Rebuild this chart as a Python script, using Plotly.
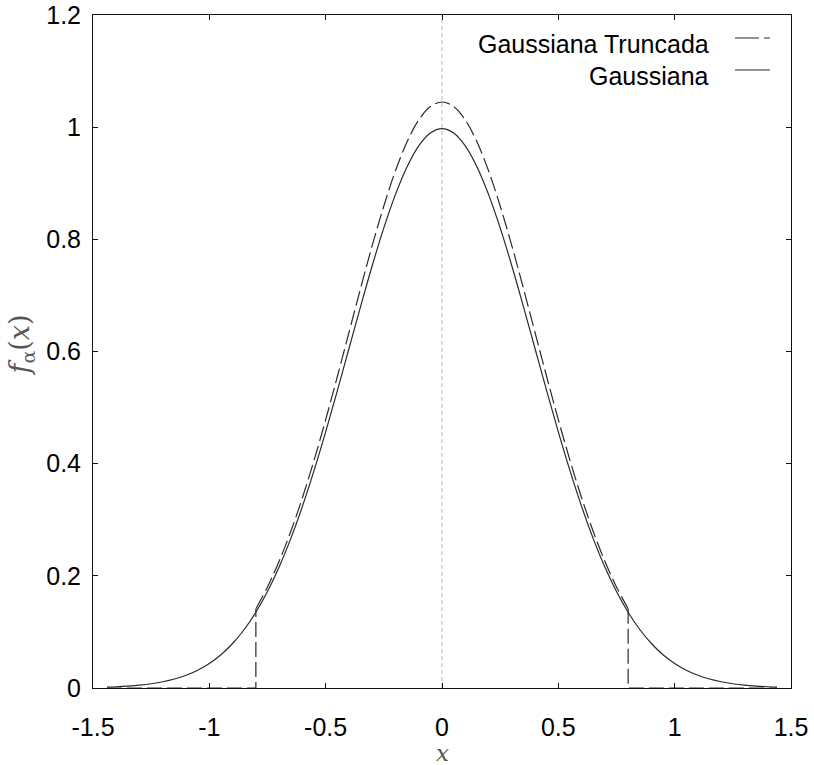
import plotly.graph_objects as go

# ---- data ----
gauss_x = [-1.44, -1.40, -1.35, -1.30, -1.25, -1.20, -1.15, -1.10, -1.05, -1.00,
           -0.95, -0.90, -0.85, -0.80, -0.75, -0.70, -0.65, -0.60, -0.55, -0.50,
           -0.45, -0.40, -0.35, -0.30, -0.25, -0.20, -0.15, -0.10, -0.05, 0.00,
           0.05, 0.10, 0.15, 0.20, 0.25, 0.30, 0.35, 0.40, 0.45, 0.50,
           0.55, 0.60, 0.65, 0.70, 0.75, 0.80, 0.85, 0.90, 0.95, 1.00,
           1.05, 1.10, 1.15, 1.20, 1.25, 1.30, 1.35, 1.40, 1.44]
gauss_y = [0.0015, 0.0022, 0.0034, 0.0051, 0.0076, 0.0111, 0.0160, 0.0227, 0.0318, 0.0438,
           0.0594, 0.0794, 0.1043, 0.1350, 0.1720, 0.2157, 0.2663, 0.3238, 0.3875, 0.4566,
           0.5297, 0.6049, 0.6801, 0.7529, 0.8204, 0.8802, 0.9296, 0.9667, 0.9896, 0.9974,
           0.9896, 0.9667, 0.9296, 0.8802, 0.8204, 0.7529, 0.6801, 0.6049, 0.5297, 0.4566,
           0.3875, 0.3238, 0.2663, 0.2157, 0.1720, 0.1350, 0.1043, 0.0794, 0.0594, 0.0438,
           0.0318, 0.0227, 0.0160, 0.0111, 0.0076, 0.0051, 0.0034, 0.0022, 0.0015]

trunc_x = [-0.80, -0.75, -0.70, -0.65, -0.60, -0.55, -0.50, -0.45, -0.40, -0.35, -0.30,
           -0.25, -0.20, -0.15, -0.10, -0.05, 0.00, 0.05, 0.10, 0.15, 0.20, 0.25,
           0.30, 0.35, 0.40, 0.45, 0.50, 0.55, 0.60, 0.65, 0.70, 0.75, 0.80]
trunc_y = [0.1414, 0.1802, 0.2260, 0.2790, 0.3392, 0.4060, 0.4784, 0.5550, 0.6337, 0.7125, 0.7888,
           0.8595, 0.9222, 0.9739, 1.0128, 1.0368, 1.0449, 1.0368, 1.0128, 0.9739, 0.9222, 0.8595,
           0.7888, 0.7125, 0.6337, 0.5550, 0.4784, 0.4060, 0.3392, 0.2790, 0.2260, 0.1802, 0.1414]

# truncated density: zero outside the cut, with vertical drops at the cut
trunc_left_x = [-1.44, -0.80, -0.80]
trunc_left_y = [0.0, 0.0, 0.1414]
trunc_right_x = [0.80, 0.80, 1.44]
trunc_right_y = [0.1414, 0.0, 0.0]

x_tickvals = [-1.5, -1.0, -0.5, 0.0, 0.5, 1.0, 1.5]
x_ticktext = ["-1.5", "-1", "-0.5", "0", "0.5", "1", "1.5"]
y_tickvals = [0.0, 0.2, 0.4, 0.6, 0.8, 1.0, 1.2]
y_ticktext = ["0", "0.2", "0.4", "0.6", "0.8", "1", "1.2"]

series_names = ["Gaussiana Truncada", "Gaussiana"]

LINE = "#2a2a2a"
DASH = "15px,5px"
SANS = "Liberation Sans, Arial"
SERIF = "DejaVu Serif, Liberation Serif, serif"

fig = go.Figure()
fig.add_trace(go.Scatter(x=trunc_x, y=trunc_y, mode="lines", name=series_names[0],
                         line=dict(color=LINE, width=1.2, dash=DASH, shape="spline"),
                         showlegend=False))
fig.add_trace(go.Scatter(x=trunc_left_x, y=trunc_left_y, mode="lines",
                         line=dict(color=LINE, width=1.2, dash=DASH), showlegend=False))
fig.add_trace(go.Scatter(x=trunc_right_x, y=trunc_right_y, mode="lines",
                         line=dict(color=LINE, width=1.2, dash=DASH), showlegend=False))
fig.add_trace(go.Scatter(x=gauss_x, y=gauss_y, mode="lines", name=series_names[1],
                         line=dict(color=LINE, width=1.2, shape="spline"),
                         showlegend=False))

# vertical dotted reference at x = 0
fig.add_shape(type="line", xref="x", yref="paper", x0=0, x1=0, y0=0, y1=1,
              line=dict(color="#cfcfcf", width=1.5, dash="4px,3px"), layer="below")

# legend (text right-aligned, sample line on the right, gnuplot style)
fig.add_annotation(xref="paper", yref="paper", x=0.886, y=0.957, text=series_names[0],
                   showarrow=False, xanchor="right", yanchor="middle",
                   font=dict(family=SANS, size=25, color="#000"))
fig.add_annotation(xref="paper", yref="paper", x=0.886, y=0.909, text=series_names[1],
                   showarrow=False, xanchor="right", yanchor="middle",
                   font=dict(family=SANS, size=25, color="#000"))
fig.add_shape(type="line", xref="paper", yref="paper", x0=0.9198, x1=0.9699, y0=0.9658, y1=0.9658,
              line=dict(color=LINE, width=1.2, dash="24px,5px"))
fig.add_shape(type="line", xref="paper", yref="paper", x0=0.9198, x1=0.9699, y0=0.9183, y1=0.9183,
              line=dict(color=LINE, width=1.2))

# axis titles
fig.add_annotation(xref="paper", yref="paper", x=0.5014, y=-0.096, text="<i>x</i>",
                   showarrow=False, xanchor="center", yanchor="middle", borderpad=0,
                   font=dict(family=SERIF, size=23, color="#555"))
fig.add_annotation(xref="paper", yref="paper", x=-0.102, y=0.51, textangle=-90,
                   text="<i>f</i><sub>α</sub>(<i>x</i>)",
                   showarrow=False, xanchor="center", yanchor="middle",
                   font=dict(family=SERIF, size=27, color="#555"))

axis_common = dict(showline=True, linecolor="#111", linewidth=1, mirror="ticks",
                   ticks="inside", ticklen=5, tickwidth=1, tickcolor="#111",
                   showgrid=False, zeroline=False, automargin=False,
                   tickfont=dict(family=SANS, size=25, color="#000"))

fig.update_xaxes(range=[-1.5, 1.5], tickvals=x_tickvals, ticktext=x_ticktext,
                 ticklabelstandoff=17, **axis_common)
fig.update_yaxes(range=[0, 1.2], tickvals=y_tickvals, ticktext=y_ticktext,
                 ticklabelstandoff=6, **axis_common)

fig.update_layout(width=814, height=765, margin=dict(l=93, r=23, t=15, b=77),
                  plot_bgcolor="white", paper_bgcolor="white", showlegend=False)

# remove the default 8px page margin so the figure fills the window exactly
fig.write_html("out.html", config={"displayModeBar": False},
               post_script="document.body.style.margin='0';document.body.style.overflow='hidden';")
